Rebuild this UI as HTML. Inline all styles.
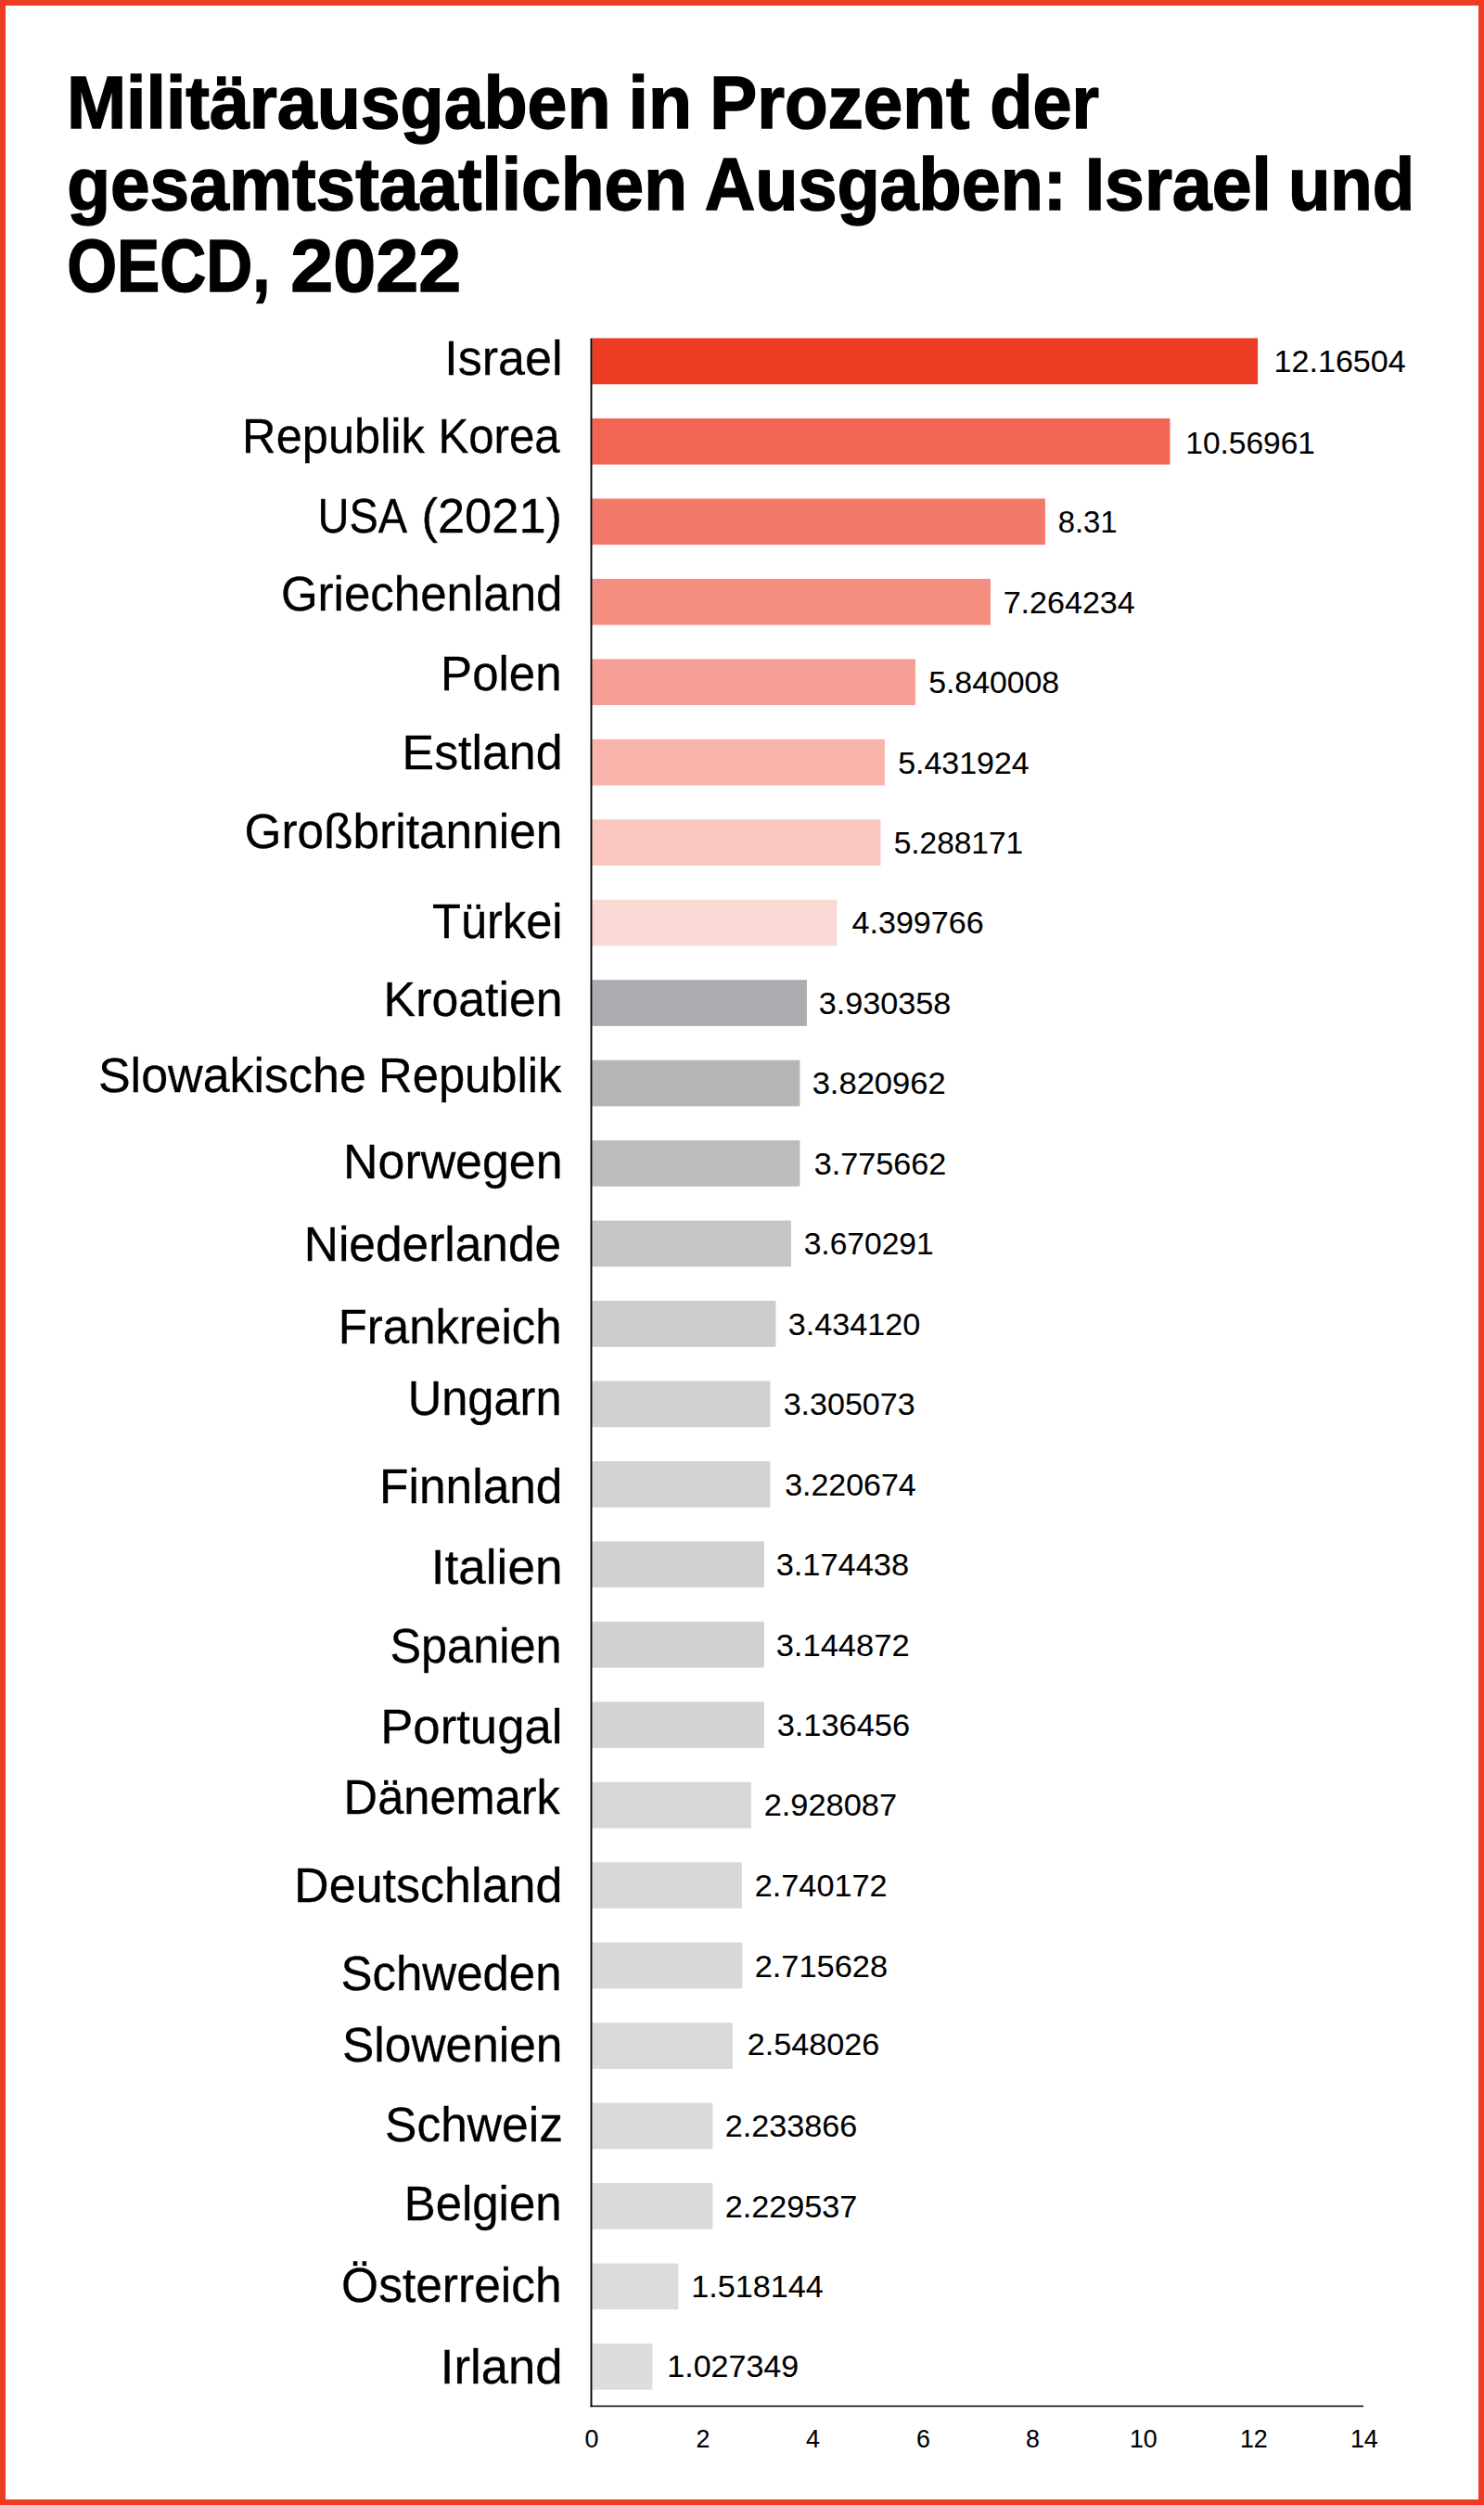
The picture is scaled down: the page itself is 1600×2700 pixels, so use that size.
<!DOCTYPE html>
<html lang="de">
<head>
<meta charset="utf-8">
<title>Militärausgaben in Prozent der gesamtstaatlichen Ausgaben: Israel und OECD, 2022</title>
<style>
html,body{margin:0;padding:0;background:#fff;}
body{width:1600px;height:2700px;overflow:hidden;}
.frame{position:absolute;left:0;top:0;width:1588px;height:2688px;border:6px solid #EE3B24;background:#fff;}
svg{position:absolute;left:0;top:0;display:block;}
text{font-family:"Liberation Sans",sans-serif;fill:#000;}
.t{font-weight:700;font-size:80.4px;stroke:#000;stroke-width:1.5px;stroke-linejoin:miter;}
.c{font-size:52.4px;stroke:#000;stroke-width:0.3px;}
.v{font-size:32.6px;stroke:#000;stroke-width:0.1px;}
.a{font-size:26.8px;text-anchor:middle;stroke:#000;stroke-width:0.1px;}
</style>
</head>
<body>
<div class="frame"></div>
<svg width="1600" height="2700" viewBox="0 0 1600 2700">

<g id="bars">
<rect x="638.3" y="364.50" width="717.85" height="49.7" fill="#EE3B24"/>
<rect x="638.3" y="450.96" width="623.10" height="49.7" fill="#F26553"/>
<rect x="638.3" y="537.42" width="488.60" height="49.7" fill="#F3796A"/>
<rect x="638.3" y="623.88" width="429.60" height="49.7" fill="#F58D80"/>
<rect x="638.3" y="710.34" width="348.60" height="49.7" fill="#F6A095"/>
<rect x="638.3" y="796.80" width="315.60" height="49.7" fill="#F8B3AA"/>
<rect x="638.3" y="883.26" width="311.10" height="49.7" fill="#FAC6BF"/>
<rect x="638.3" y="969.72" width="264.10" height="49.7" fill="#FBD9D4"/>
<rect x="638.3" y="1056.18" width="231.60" height="49.7" fill="#ABACAF"/>
<rect x="638.3" y="1142.64" width="224.10" height="49.7" fill="#B4B5B7"/>
<rect x="638.3" y="1229.10" width="224.10" height="49.7" fill="#BBBCBE"/>
<rect x="638.3" y="1315.56" width="214.60" height="49.7" fill="#C4C5C7"/>
<rect x="638.3" y="1402.02" width="198.10" height="49.7" fill="#CBCCCD"/>
<rect x="638.3" y="1488.48" width="192.10" height="49.7" fill="#CFD0D1"/>
<rect x="638.3" y="1574.94" width="192.10" height="49.7" fill="#D2D3D4"/>
<rect x="638.3" y="1661.40" width="185.60" height="49.7" fill="#D0D1D2"/>
<rect x="638.3" y="1747.86" width="185.60" height="49.7" fill="#D0D1D2"/>
<rect x="638.3" y="1834.32" width="185.60" height="49.7" fill="#D3D4D5"/>
<rect x="638.3" y="1920.78" width="171.60" height="49.7" fill="#D6D7D8"/>
<rect x="638.3" y="2007.24" width="161.60" height="49.7" fill="#D7D8D9"/>
<rect x="638.3" y="2093.70" width="162.10" height="49.7" fill="#D7D8D9"/>
<rect x="638.3" y="2180.16" width="151.60" height="49.7" fill="#D8D9DA"/>
<rect x="638.3" y="2266.62" width="130.10" height="49.7" fill="#D9DADB"/>
<rect x="638.3" y="2353.08" width="130.10" height="49.7" fill="#D9DADB"/>
<rect x="638.3" y="2439.54" width="93.10" height="49.7" fill="#DBDCDD"/>
<rect x="638.3" y="2526.00" width="65.10" height="49.7" fill="#DCDDDE"/>
</g>
<g id="axes" fill="#050505"><rect x="636.55" y="364.6" width="1.9" height="2229.65"/><rect x="636.6" y="2592.7" width="833.4" height="1.55"/></g>
<g id="title">
<text id="t0" class="t" x="71.88" y="138.25" textLength="586.64" lengthAdjust="spacingAndGlyphs">Militärausgaben</text>
<text id="t1" class="t" x="677.48" y="138.25" textLength="68.54" lengthAdjust="spacingAndGlyphs">in</text>
<text id="t2" class="t" x="765.22" y="138.25" textLength="280.25" lengthAdjust="spacingAndGlyphs">Prozent</text>
<text id="t3" class="t" x="1067.18" y="138.25" textLength="117.74" lengthAdjust="spacingAndGlyphs">der</text>
<text id="t4" class="t" x="72.18" y="225.75" textLength="668.84" lengthAdjust="spacingAndGlyphs">gesamtstaatlichen</text>
<text id="t5" class="t" x="759.83" y="225.75" textLength="390.14" lengthAdjust="spacingAndGlyphs">Ausgaben:</text>
<text id="t6" class="t" x="1169.69" y="225.75" textLength="201.20" lengthAdjust="spacingAndGlyphs">Israel</text>
<text id="t7" class="t" x="1388.88" y="225.75" textLength="136.30" lengthAdjust="spacingAndGlyphs">und</text>
<text id="t8" class="t" x="72.18" y="313.85" textLength="219.34" lengthAdjust="spacingAndGlyphs">OECD,</text>
<text id="t9" class="t" x="313.18" y="313.85" textLength="184.04" lengthAdjust="spacingAndGlyphs">2022</text>
</g>
<g id="countries">
<text id="c0" class="c" x="479.22" y="403.60" textLength="127.28" lengthAdjust="spacingAndGlyphs">Israel</text>
<text id="c1" class="c" x="261.12" y="487.85" textLength="196.78" lengthAdjust="spacingAndGlyphs">Republik</text>
<text id="c2" class="c" x="472.42" y="487.85" textLength="131.28" lengthAdjust="spacingAndGlyphs">Korea</text>
<text id="c3" class="c" x="342.52" y="573.60" textLength="96.73" lengthAdjust="spacingAndGlyphs">USA</text>
<text id="c4" class="c" x="454.52" y="573.60" textLength="151.48" lengthAdjust="spacingAndGlyphs">(2021)</text>
<text id="c5" class="c" x="302.92" y="658.35" textLength="303.58" lengthAdjust="spacingAndGlyphs">Griechenland</text>
<text id="c6" class="c" x="475.12" y="743.85" textLength="130.48" lengthAdjust="spacingAndGlyphs">Polen</text>
<text id="c7" class="c" x="433.62" y="828.85" textLength="172.88" lengthAdjust="spacingAndGlyphs">Estland</text>
<text id="c8" class="c" x="263.42" y="913.85" textLength="343.08" lengthAdjust="spacingAndGlyphs">Großbritannien</text>
<text id="c9" class="c" x="466.02" y="1010.85" textLength="140.48" lengthAdjust="spacingAndGlyphs">Türkei</text>
<text id="c10" class="c" x="413.62" y="1094.85" textLength="192.88" lengthAdjust="spacingAndGlyphs">Kroatien</text>
<text id="c11" class="c" x="105.92" y="1176.85" textLength="289.07" lengthAdjust="spacingAndGlyphs">Slowakische</text>
<text id="c12" class="c" x="408.12" y="1176.85" textLength="197.28" lengthAdjust="spacingAndGlyphs">Republik</text>
<text id="c13" class="c" x="370.12" y="1269.85" textLength="236.38" lengthAdjust="spacingAndGlyphs">Norwegen</text>
<text id="c14" class="c" x="327.72" y="1359.10" textLength="277.48" lengthAdjust="spacingAndGlyphs">Niederlande</text>
<text id="c15" class="c" x="364.67" y="1448.35" textLength="240.93" lengthAdjust="spacingAndGlyphs">Frankreich</text>
<text id="c16" class="c" x="439.67" y="1525.10" textLength="165.93" lengthAdjust="spacingAndGlyphs">Ungarn</text>
<text id="c17" class="c" x="409.12" y="1619.85" textLength="197.38" lengthAdjust="spacingAndGlyphs">Finnland</text>
<text id="c18" class="c" x="464.72" y="1706.85" textLength="141.78" lengthAdjust="spacingAndGlyphs">Italien</text>
<text id="c19" class="c" x="420.42" y="1792.35" textLength="185.18" lengthAdjust="spacingAndGlyphs">Spanien</text>
<text id="c20" class="c" x="410.17" y="1878.85" textLength="196.33" lengthAdjust="spacingAndGlyphs">Portugal</text>
<text id="c21" class="c" x="370.62" y="1954.85" textLength="233.28" lengthAdjust="spacingAndGlyphs">Dänemark</text>
<text id="c22" class="c" x="317.12" y="2050.35" textLength="289.38" lengthAdjust="spacingAndGlyphs">Deutschland</text>
<text id="c23" class="c" x="367.47" y="2144.85" textLength="238.13" lengthAdjust="spacingAndGlyphs">Schweden</text>
<text id="c24" class="c" x="369.02" y="2222.35" textLength="237.48" lengthAdjust="spacingAndGlyphs">Slowenien</text>
<text id="c25" class="c" x="415.02" y="2307.85" textLength="191.98" lengthAdjust="spacingAndGlyphs">Schweiz</text>
<text id="c26" class="c" x="435.67" y="2392.85" textLength="169.93" lengthAdjust="spacingAndGlyphs">Belgien</text>
<text id="c27" class="c" x="368.12" y="2481.10" textLength="237.48" lengthAdjust="spacingAndGlyphs">Österreich</text>
<text id="c28" class="c" x="474.77" y="2568.60" textLength="131.73" lengthAdjust="spacingAndGlyphs">Irland</text>
</g>
<g id="values">
<text id="v0" class="v" x="1373.57" y="400.70" textLength="142.13" lengthAdjust="spacingAndGlyphs">12.16504</text>
<text id="v1" class="v" x="1278.28" y="489.45" textLength="139.71" lengthAdjust="spacingAndGlyphs">10.56961</text>
<text id="v2" class="v" x="1140.68" y="573.95" textLength="63.97" lengthAdjust="spacingAndGlyphs">8.31</text>
<text id="v3" class="v" x="1081.68" y="660.95" textLength="142.07" lengthAdjust="spacingAndGlyphs">7.264234</text>
<text id="v4" class="v" x="1001.18" y="746.95" textLength="140.97" lengthAdjust="spacingAndGlyphs">5.840008</text>
<text id="v5" class="v" x="968.18" y="833.95" textLength="141.57" lengthAdjust="spacingAndGlyphs">5.431924</text>
<text id="v6" class="v" x="963.68" y="919.95" textLength="139.47" lengthAdjust="spacingAndGlyphs">5.288171</text>
<text id="v7" class="v" x="918.58" y="1006.45" textLength="142.07" lengthAdjust="spacingAndGlyphs">4.399766</text>
<text id="v8" class="v" x="882.68" y="1092.95" textLength="142.47" lengthAdjust="spacingAndGlyphs">3.930358</text>
<text id="v9" class="v" x="875.68" y="1178.95" textLength="143.97" lengthAdjust="spacingAndGlyphs">3.820962</text>
<text id="v10" class="v" x="877.68" y="1265.95" textLength="142.47" lengthAdjust="spacingAndGlyphs">3.775662</text>
<text id="v11" class="v" x="866.68" y="1351.95" textLength="139.97" lengthAdjust="spacingAndGlyphs">3.670291</text>
<text id="v12" class="v" x="849.68" y="1438.95" textLength="142.47" lengthAdjust="spacingAndGlyphs">3.434120</text>
<text id="v13" class="v" x="844.68" y="1524.95" textLength="141.97" lengthAdjust="spacingAndGlyphs">3.305073</text>
<text id="v14" class="v" x="846.18" y="1612.45" textLength="141.57" lengthAdjust="spacingAndGlyphs">3.220674</text>
<text id="v15" class="v" x="836.68" y="1698.45" textLength="143.47" lengthAdjust="spacingAndGlyphs">3.174438</text>
<text id="v16" class="v" x="836.68" y="1784.95" textLength="143.97" lengthAdjust="spacingAndGlyphs">3.144872</text>
<text id="v17" class="v" x="837.68" y="1871.45" textLength="143.47" lengthAdjust="spacingAndGlyphs">3.136456</text>
<text id="v18" class="v" x="823.68" y="1957.45" textLength="143.47" lengthAdjust="spacingAndGlyphs">2.928087</text>
<text id="v19" class="v" x="813.68" y="2043.95" textLength="142.97" lengthAdjust="spacingAndGlyphs">2.740172</text>
<text id="v20" class="v" x="813.68" y="2130.95" textLength="143.47" lengthAdjust="spacingAndGlyphs">2.715628</text>
<text id="v21" class="v" x="805.68" y="2215.45" textLength="142.47" lengthAdjust="spacingAndGlyphs">2.548026</text>
<text id="v22" class="v" x="781.68" y="2303.45" textLength="142.47" lengthAdjust="spacingAndGlyphs">2.233866</text>
<text id="v23" class="v" x="781.68" y="2389.95" textLength="142.47" lengthAdjust="spacingAndGlyphs">2.229537</text>
<text id="v24" class="v" x="745.28" y="2475.95" textLength="142.47" lengthAdjust="spacingAndGlyphs">1.518144</text>
<text id="v25" class="v" x="719.28" y="2562.45" textLength="141.87" lengthAdjust="spacingAndGlyphs">1.027349</text>
</g>
<g id="ticks">
<text class="a" x="638" y="2637.5">0</text>
<text class="a" x="758" y="2637.5">2</text>
<text class="a" x="876.5" y="2637.5">4</text>
<text class="a" x="995.5" y="2637.5">6</text>
<text class="a" x="1113.5" y="2637.5">8</text>
<text class="a" x="1232.8" y="2637.5">10</text>
<text class="a" x="1351.8" y="2637.5">12</text>
<text class="a" x="1470.8" y="2637.5">14</text>
</g>
</svg>
</body>
</html>
